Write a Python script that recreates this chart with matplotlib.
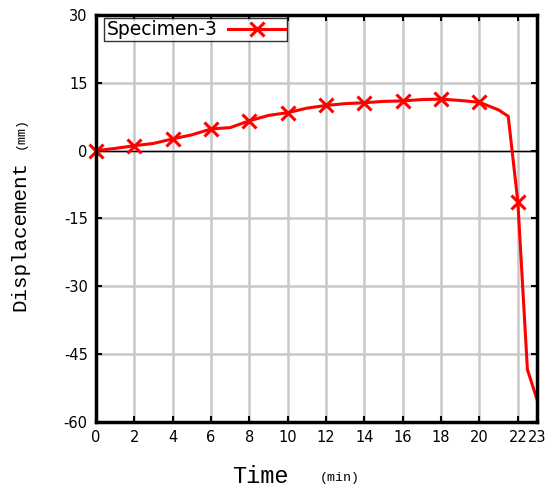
import matplotlib
matplotlib.use("Agg")
import matplotlib.pyplot as plt

# Data
time_min = [0, 1, 2, 3, 4, 5, 6, 7, 8, 9, 10, 11, 12, 13, 14, 15, 16, 17, 18, 19, 20, 21, 21.5, 22, 22.5, 23]
displacement = [0, 0.5, 1.1, 1.6, 2.6, 3.5, 4.8, 5.1, 6.6, 7.8, 8.4, 9.4, 10.0, 10.4, 10.6, 10.9, 11.0, 11.3, 11.4, 11.1, 10.7, 9.0, 7.6, -11.3, -48.4, -55.0]
marker_times = [0, 2, 4, 6, 8, 10, 12, 14, 16, 18, 20, 22]
series_label = "Specimen-3"
x_ticks = [0, 2, 4, 6, 8, 10, 12, 14, 16, 18, 20, 22, 23]
y_ticks = [-60, -45, -30, -15, 0, 15, 30]

marker_idx = [time_min.index(t) for t in marker_times]

fig = plt.figure(figsize=(5.5, 4.9), dpi=100)
ax = fig.add_axes([96/550, 1-422/490, (537-96)/550, (422-15)/490])
ax.set_axisbelow(True)

ax.grid(True, color="#c8c8c8", linewidth=1.8)
ax.axhline(0, color="black", linewidth=1.0, zorder=1.5)
ax.plot(time_min, displacement, color="#ff0000", linewidth=2.2, marker="x",
        markersize=10, markeredgewidth=2.2, markevery=marker_idx,
        label=series_label, zorder=3, clip_on=False)

ax.set_xlim(0, 23)
ax.set_ylim(-60, 30)
ax.set_xticks(x_ticks)
ax.set_yticks(y_ticks)
ax.set_xticklabels([str(v) for v in x_ticks], fontsize=10.5)
ax.set_yticklabels([str(v) for v in y_ticks], fontsize=10.5)
ax.tick_params(direction="in", length=4, width=1.5, top=True, right=True,
               labeltop=False, labelright=False, pad=6, colors="black")
for s in ax.spines.values():
    s.set_linewidth(2.5)
    s.set_zorder(4)

leg = ax.legend(loc="upper left", markerfirst=False, fontsize=13.5,
                frameon=True, fancybox=False, edgecolor="black",
                bbox_to_anchor=(8/441, 1-3/407), borderaxespad=0,
                handlelength=3.0, borderpad=0.12,
                handletextpad=0.6)
leg.get_frame().set_linewidth(1.0)
leg.set_zorder(5)

mono = "Liberation Mono"
fig.text(260/550, 1-476/490, "Time", fontsize=17, family=mono, ha="center", va="center")
fig.text(340/550, 1-478/490, "(min)", fontsize=9.5, family=mono, ha="center", va="center")
fig.text(20/550, 1-236/490, "Displacement", fontsize=15, family=mono, rotation=90,
         ha="center", va="center")
fig.text(21/550, 1-133/490, "(mm)", fontsize=9.5, family=mono, rotation=90,
         ha="center", va="center")

fig.savefig("out.png", dpi=100)
